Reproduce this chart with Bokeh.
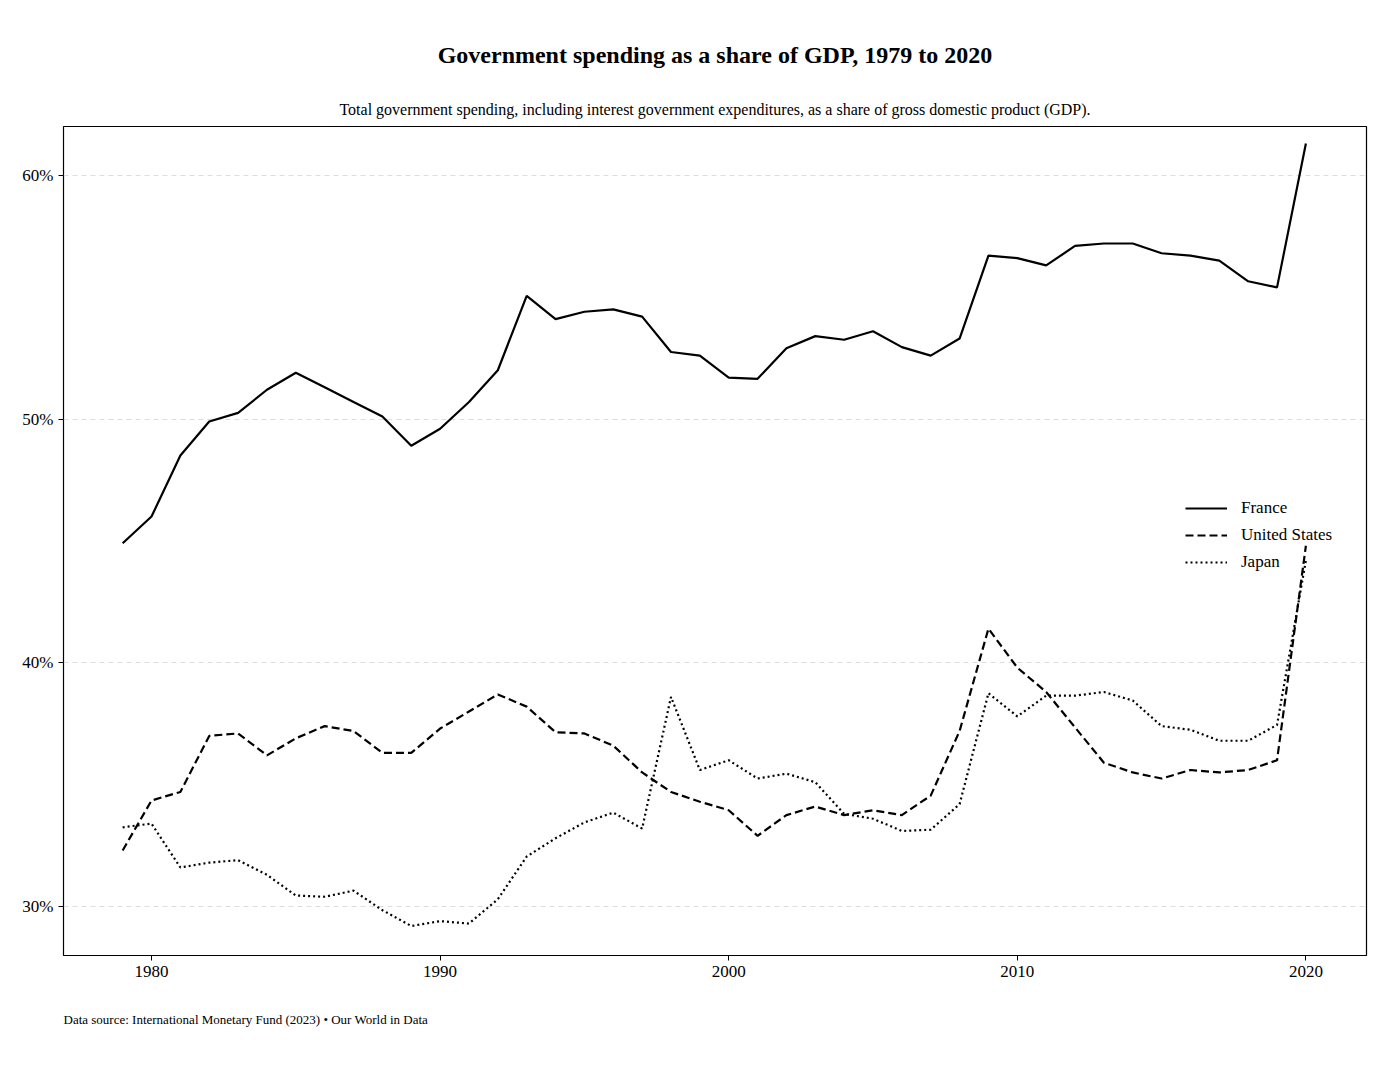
from bokeh.plotting import figure
from bokeh.models import Title, Legend, LegendItem, FixedTicker, Range1d, CustomJSTickFormatter
from bokeh.embed import file_html
from bokeh.resources import INLINE

years = list(range(1979, 2021))
france = [44.9, 46.0, 48.5, 49.9, 50.25, 51.2, 51.9, 51.3, 50.7, 50.1, 48.9, 49.6, 50.7, 52.0,
          55.05, 54.1, 54.4, 54.5, 54.2, 52.75, 52.6, 51.7, 51.65, 52.9, 53.4, 53.25, 53.6, 52.95,
          52.6, 53.3, 56.7, 56.6, 56.3, 57.1, 57.2, 57.2, 56.8, 56.7, 56.5, 55.65, 55.4, 61.3]
us = [32.3, 34.35, 34.7, 37.0, 37.1, 36.2, 36.9, 37.4, 37.2, 36.3, 36.3, 37.3, 38.0, 38.7,
      38.2, 37.15, 37.1, 36.6, 35.5, 34.7, 34.3, 33.95, 32.9, 33.75, 34.1, 33.75, 33.95, 33.75,
      34.55, 37.2, 41.4, 39.8, 38.8, 37.35, 35.9, 35.5, 35.25, 35.6, 35.5, 35.6, 36.0, 44.8]
japan = [33.25, 33.4, 31.6, 31.8, 31.9, 31.3, 30.45, 30.4, 30.65, 29.85, 29.2, 29.4, 29.3, 30.3,
         32.05, 32.8, 33.45, 33.85, 33.2, 38.6, 35.6, 36.0, 35.25, 35.45, 35.1, 33.8, 33.6, 33.1,
         33.15, 34.2, 38.75, 37.8, 38.65, 38.65, 38.8, 38.45, 37.4, 37.25, 36.8, 36.8, 37.45, 44.2]
x_ticks = [1980, 1990, 2000, 2010, 2020]
y_ticks = [30, 40, 50, 60]

FONT = "Liberation Serif"
p = figure(width=1370, height=1060, output_backend="svg", toolbar_location=None,
           x_range=Range1d(1976.95, 2022.1), y_range=Range1d(27.99, 62.0),
           min_border_left=63, min_border_right=4, min_border_top=126, min_border_bottom=105)

sub = Title(text="Total government spending, including interest government expenditures, as a share of gross domestic product (GDP).",
            align="center", text_font=FONT, text_font_size="16px", text_font_style="normal",
            text_color="black", standoff=18)
p.add_layout(sub, "above")
ttl = Title(text="Government spending as a share of GDP, 1979 to 2020", align="center",
            text_font=FONT, text_font_size="24px", text_font_style="bold", text_color="black",
            standoff=44)
p.add_layout(ttl, "above")
foot = Title(text="Data source: International Monetary Fund (2023) \u2022 Our World in Data", align="left",
             text_font=FONT, text_font_size="13px", text_font_style="normal", text_color="black",
             standoff=60)
p.add_layout(foot, "below")

r1 = p.line(years, france, line_color="black", line_width=2.2)
r2 = p.line(years, us, line_color="black", line_width=2.2, line_dash="8 4")
r3 = p.line(years, japan, line_color="black", line_width=2.2, line_dash="2 3")

leg = Legend(items=[LegendItem(label="France", renderers=[r1]),
                    LegendItem(label="United States", renderers=[r2]),
                    LegendItem(label="Japan", renderers=[r3])],
             location=(1112, 372), border_line_alpha=0, background_fill_alpha=0,
             label_text_font=FONT, label_text_font_size="17px", label_text_color="black",
             glyph_width=42, spacing=5, label_height=22, label_standoff=14)
p.add_layout(leg, "center")

p.outline_line_color = "black"
p.outline_line_width = 1.2
p.xgrid.visible = False
p.ygrid.grid_line_color = "#dddddd"
p.ygrid.grid_line_dash = "5 4"
p.xaxis.ticker = FixedTicker(ticks=x_ticks)
p.yaxis.ticker = FixedTicker(ticks=y_ticks)
p.yaxis.formatter = CustomJSTickFormatter(code="return tick + '%';")
for ax in (p.xaxis[0], p.yaxis[0]):
    ax.axis_line_color = None
    ax.major_label_text_font = FONT
    ax.major_label_text_font_size = "17px"
    ax.major_label_text_color = "black"
    ax.minor_tick_line_color = None
    ax.major_tick_in = 0
    ax.major_tick_out = 5
    ax.major_tick_line_color = "black"

open("out.html", "w").write(file_html(p, INLINE))
